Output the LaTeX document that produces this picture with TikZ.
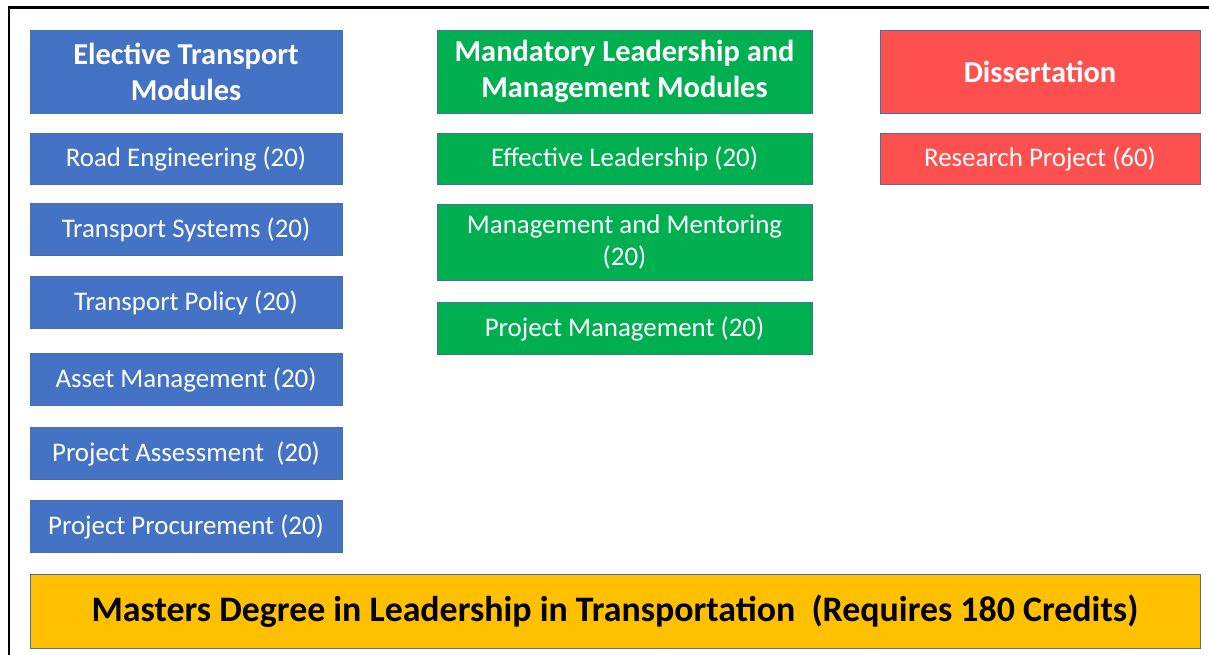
\documentclass[tikz,border=0pt]{standalone}
\usepackage{fontspec}
\setmainfont{Carlito}
\usetikzlibrary{positioning}

\definecolor{modblue}{HTML}{4472C4}
\definecolor{modgreen}{HTML}{00B050}
\definecolor{modred}{HTML}{FF5050}
\definecolor{modgold}{HTML}{FFC000}
\definecolor{modedge}{HTML}{4A6FA5}

\tikzset{
  module/.style={rectangle, draw=modedge, line width=0.5pt, text=white,
    align=center, inner sep=0pt, minimum height=1.03cm, font=\fontsize{15.3}{18.3}\selectfont},
  header/.style={module, minimum height=1.66cm, font=\bfseries\fontsize{17.3}{20.5}\selectfont},
  elective/.style={fill=modblue, minimum width=6.24cm},
  mandatory/.style={fill=modgreen, minimum width=7.5cm},
  thesis/.style={fill=modred, minimum width=6.4cm},
}

\begin{document}
\begin{tikzpicture}[on grid]
  \useasboundingbox (0,0) rectangle (24.18,-13.1);
  \draw[line width=1.2pt] (0.18,-13.1) -- (0.18,-0.15) -- (24.18,-0.15);

  % column headings
  \node[header,elective]  (el)  at (3.72,-1.43)        {Elective Transport\\Modules};
  \node[header,mandatory] (man) [right=8.77cm of el]   {Mandatory Leadership and\\Management Modules};
  \node[header,thesis]    (dis) [right=8.31cm of man]  {Dissertation};

  % elective modules
  \node[module,elective] (road)   [below=1.75cm of el]     {Road Engineering (20)};
  \node[module,elective] (sys)    [below=1.41cm of road]   {Transport Systems (20)};
  \node[module,elective] (pol)    [below=1.46cm of sys]    {Transport Policy (20)};
  \node[module,elective] (asset)  [below=1.54cm of pol]    {Asset Management (20)};
  \node[module,elective] (assess) [below=1.48cm of asset]  {Project Assessment~ (20)};
  \node[module,elective] (proc)   [below=1.46cm of assess] {Project Procurement (20)};

  % mandatory modules
  \node[module,mandatory] (lead)  [below=1.75cm of man]  {Effective Leadership (20)};
  \node[module,mandatory,minimum height=1.52cm] (ment) [below=1.66cm of lead] {Management and Mentoring\\(20)};
  \node[module,mandatory] (pm)    [below=1.73cm of ment] {Project Management (20)};

  % dissertation
  \node[module,thesis] (res) [below=1.75cm of dis] {Research Project (60)};

  % award
  \node[rectangle, draw=modedge, line width=0.5pt, fill=modgold, minimum width=23.4cm,
    minimum height=1.48cm, font=\bfseries\fontsize{20.4}{24}\selectfont]
    (deg) at (12.3,-12.22) {Masters Degree in Leadership in Transportation~ (Requires 180 Credits)};
\end{tikzpicture}
\end{document}
